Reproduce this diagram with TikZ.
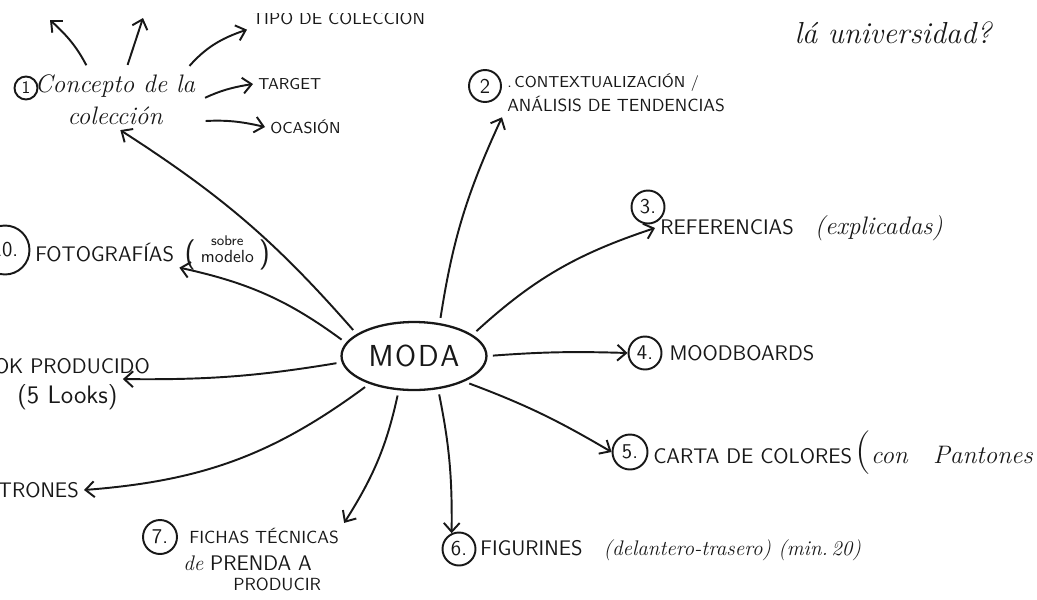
\documentclass[tikz,border=0pt]{standalone}
\usepackage{xcolor}
\usepackage{tikz}
\usetikzlibrary{positioning,shapes.geometric,arrows.meta}
\definecolor{ink}{RGB}{24,24,24}
\tikzset{
 numring/.style={circle, draw=ink, line width=1.1pt, minimum size=0.66cm,
        inner sep=0pt, font=\sffamily\large, text=ink},
 caplbl/.style={font=\sffamily\large, text=ink, inner sep=1pt, outer sep=2pt},
 handlbl/.style={font=\itshape\large, text=ink, inner sep=1pt, outer sep=2pt},
 branch/.style={draw=ink, line width=1.1pt, shorten <=3pt,
        -{Straight Barb[length=5pt,width=9pt]}},
}
\begin{document}
\begin{tikzpicture}[x=0.02cm, y=0.02cm]
\useasboundingbox (0,0) rectangle (1037,-599);
\fill[white] (0,0) rectangle (1037,-599);
\clip (0,-13) rectangle (1037,-599);
% centre of the map
\node[ellipse, draw=ink, line width=1.3pt, minimum width=2.7cm,
   minimum height=1.36cm, font=\sffamily\LARGE, text=ink] (moda) at (414,-356) {M\kern1pt O\kern1pt D\kern1pt A};
% 1) concept of the collection and its own sub-branches
\node[numring, minimum size=0.46cm, font=\sffamily\normalsize] (n1) at (26,-88) {1};
\node[handlbl, font=\itshape\Large, align=center] (concepto) at (115,-100) {Concepto de la\\colección};
\node[caplbl, font=\sffamily\normalsize, anchor=base west] (tipo) at (247,-24) {TIPO DE COLECCIÓN};
\node[caplbl, font=\sffamily\small, anchor=west] (target) at (253,-84) {TARGET};
\node[caplbl, font=\sffamily\small, anchor=west] (ocasion) at (265,-127) {OCASIÓN};
\coordinate (upa) at (50,-20);
\coordinate (upb) at (143,-18);
\node[handlbl, font=\itshape\LARGE] (univ) at (893,-33) {lá universidad?};
% right hand side, 2 to 6
\node[numring, minimum size=0.64cm] (n2) at (485,-86) {2};
\node[caplbl, font=\sffamily\normalsize, anchor=north west, align=left] (ctx) at (502,-68) {{\small .\,CONTEXTUALIZACIÓN /}\\[2pt]ANÁLISIS DE TENDENCIAS};
\node[numring] (n3) at (648,-207) {3.};
\node[caplbl, anchor=west] (ref) at (655,-228) {REFERENCIAS\quad{\rmfamily\itshape\Large(explicadas)}};
\node[numring] (n4) at (645,-353) {4.};
\node[caplbl, right=1pt of n4] (mood) {MOODBOARDS};
\node[numring, minimum size=0.7cm] (n5) at (630,-452) {5.};
\node[caplbl, anchor=west] (carta) at (648,-453) {CARTA DE COLORES\,{\rmfamily\Huge(}{\rmfamily\itshape\Large con\quad Pantones\,)}};
\node[numring] (n6) at (459,-549) {6.};
\node[caplbl, anchor=west] (fig) at (475,-550) {FIGURINES\quad{\rmfamily\itshape(delantero-trasero) (min.\,20)}};
% bottom and left, 7 to 10
\node[numring, minimum size=0.68cm] (n7) at (160,-537) {7.};
\node[caplbl, font=\sffamily\normalsize, anchor=west] (fichas) at (184,-536) {FICHAS TÉCNICAS};
\node[caplbl, anchor=west] (prenda) at (178,-563) {{\rmfamily\itshape de} PRENDA A};
\node[caplbl, font=\sffamily\normalsize, anchor=west] (producir) at (228,-584) {PRODUCIR};
\node[caplbl, anchor=east] (patrones) at (84,-490) {PATRONES};
\node[caplbl, anchor=east] (look) at (155,-366) {LOOK PRODUCIDO};
\node[caplbl, anchor=west, font=\sffamily\Large] (looks) at (12,-397) {(5 Looks)};
\node[numring, minimum size=0.98cm] (n10) at (5,-250) {10.};
\node[caplbl, anchor=west] (foto) at (30,-253) {FOTOGRAFÍAS};
\node[caplbl, right=0pt of foto, font=\sffamily\LARGE] (modelo) {(\,\shortstack{\footnotesize sobre\\\normalsize modelo}\,)};
% branches out of the ellipse
\foreach \from/\to/\bend in {%
 159/concepto.-80/-8, 52/ctx.south west/8, 20/ref.west/12, 0/n4.west/3,
 -27/n5.west/5, -54/n6.115/6, -114/fichas.north east/10,
 -148/patrones.east/16, 185/looks.north east/5, 169/foto.south east/-12%
}{
 \draw[branch] (moda.\from) to[bend left=\bend] (\to);
}
% sub-branches of the concept
\foreach \from/\to/\bend in {%
 131/upa/-10, 70/upb/0, 23/tipo.south west/15, 0/target.west/8, -14/ocasion.west/8%
}{
 \draw[branch] (concepto.\from) to[bend left=\bend] (\to);
}
\end{tikzpicture}
\end{document}
